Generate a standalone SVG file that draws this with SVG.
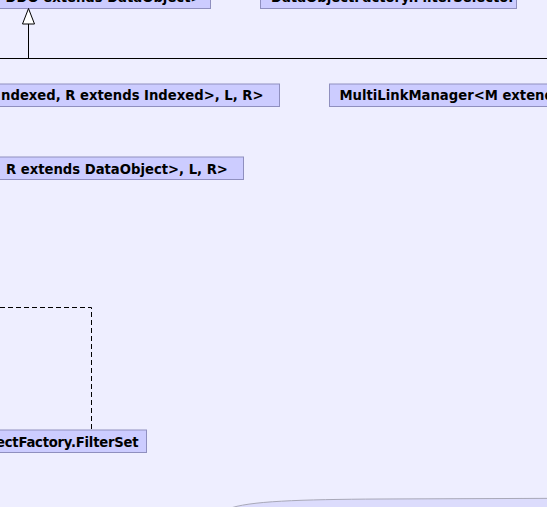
<svg xmlns="http://www.w3.org/2000/svg" width="547" height="507" viewBox="0 0 547 507">
<style>
.box{fill:#ccccff;stroke:#8f8fbf;stroke-width:1}
.lbl{font-family:"DejaVu Sans",Verdana,sans-serif;font-weight:bold;font-size:13.2px;fill:#000}
.edge{fill:none;stroke:#000;stroke-width:1}
.dash{stroke-dasharray:5,3}
</style>
<rect x="0" y="0" width="547" height="507" fill="#eeeeff"/>
<g id="node-ddo">
<rect class="box" x="-10" y="-20" width="220.5" height="28.5"/>
<text class="lbl" x="5.5" y="1.7">DDO extends DataObject&gt;</text>
</g>
<g id="node-filterselector">
<rect class="box" x="260.5" y="-20" width="256" height="28.5"/>
<text class="lbl" x="271" y="1.7">DataObjectFactory.FilterSelector</text>
</g>
<g id="node-indexed">
<rect class="box" x="-10" y="84" width="289.5" height="22.5"/>
<text class="lbl" x="263.5" y="100" text-anchor="end">ndexed, R extends Indexed&gt;, L, R&gt;</text>
</g>
<g id="node-multilink">
<rect class="box" x="329.5" y="84" width="230" height="22.5"/>
<text class="lbl" x="339.5" y="100">MultiLinkManager&lt;M extends</text>
</g>
<g id="node-dataobject">
<rect class="box" x="-10" y="157" width="253.5" height="22.5"/>
<text class="lbl" x="6" y="173.5">R extends DataObject&gt;, L, R&gt;</text>
</g>
<g id="node-filterset">
<rect class="box" x="-10" y="430" width="156.5" height="22.5"/>
<text class="lbl" x="-4" y="446.5" textLength="142.5" lengthAdjust="spacing">ectFactory.FilterSet</text>
</g>
<g id="node-bottom">
<path d="M 228,509 C 248,501 300,499.5 380,499 L 560,498.3 L 560,520 L 228,520 Z" fill="#dcdcfc" stroke="#a8a8b8" stroke-width="1"/>
</g>
<g id="connectors">
<path class="edge" d="M 0,58.5 H 547"/>
<path class="edge" d="M 28.5,58.5 V 24"/>
<polygon points="28.5,8.5 22.5,24 34.5,24" fill="#ffffff" stroke="#000" stroke-width="1"/>
<path class="edge dash" d="M 0,307.5 H 91.5 V 430"/>
</g>
</svg>
